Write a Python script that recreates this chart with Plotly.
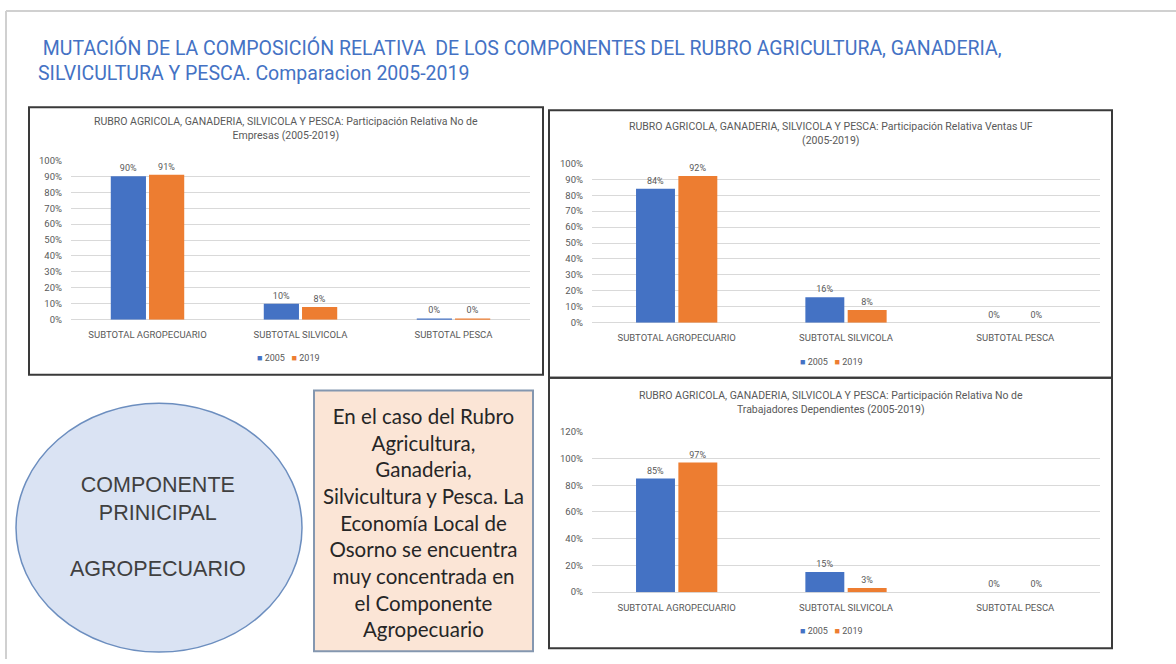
import plotly.graph_objects as go

W, H = 1176, 664

categories = ["SUBTOTAL AGROPECUARIO", "SUBTOTAL SILVICOLA", "SUBTOTAL PESCA"]
series_names = ["2005", "2019"]

empresas_2005 = [0.90, 0.10, 0.004]
empresas_2019 = [0.91, 0.08, 0.004]
ventas_2005 = [0.84, 0.16, 0.0]
ventas_2019 = [0.92, 0.08, 0.0]
trabajadores_2005 = [0.85, 0.15, 0.0]
trabajadores_2019 = [0.97, 0.03, 0.0]

main_title = (" MUTACIÓN DE LA COMPOSICIÓN RELATIVA  DE LOS COMPONENTES DEL RUBRO AGRICULTURA, GANADERIA,<br>"
              "SILVICULTURA Y PESCA. Comparacion 2005-2019")
chart_titles = [
    "RUBRO AGRICOLA, GANADERIA, SILVICOLA Y PESCA: Participación Relativa No de<br>Empresas (2005-2019)",
    "RUBRO AGRICOLA, GANADERIA, SILVICOLA Y PESCA: Participación Relativa Ventas UF<br>(2005-2019)",
    "RUBRO AGRICOLA, GANADERIA, SILVICOLA Y PESCA: Participación Relativa No de<br>Trabajadores Dependientes (2005-2019)",
]
ellipse_text = "COMPONENTE<br>PRINICIPAL<br><br>AGROPECUARIO"
box_text = ("En el caso del Rubro<br>Agricultura,<br>Ganaderia,<br>Silvicultura y Pesca. La<br>"
            "Economía Local de<br>Osorno se encuentra<br>muy concentrada en<br>el Componente<br>Agropecuario")

BLUE = "#4472C4"
ORANGE = "#ED7D31"
GRAY_TXT = "#595959"
GRID = "#D9D9D9"
SMALL_FONT = "Roboto, sans-serif"

def px(x):
    return x / W

def py(y):
    return 1 - y / H

fig = go.Figure()

# plot-area pixel boxes: (x0, x1, ytop, ybottom, ymax, dtick)
areas = [
    (71, 530, 157, 319, 1.0, 0.1),
    (592, 1100, 160, 322, 1.0, 0.1),
    (592, 1100, 433, 596, 1.2, 0.2),
]
data = [
    (empresas_2005, empresas_2019),
    (ventas_2005, ventas_2019),
    (trabajadores_2005, trabajadores_2019),
]
legend_pos = [(288, 358), (831, 362), (831, 636)]
title_pos = [(286, 125), (831, 130), (831, 403)]

for i, ((a, b), (x0, x1, yt, yb, ymax, dt)) in enumerate(zip(data, areas)):
    xa = "x" if i == 0 else f"x{i+1}"
    ya = "y" if i == 0 else f"y{i+1}"
    for vals, name, col in ((a, series_names[0], BLUE), (b, series_names[1], ORANGE)):
        fig.add_trace(go.Bar(
            x=categories, y=vals, name=name, marker=dict(color=col, line=dict(width=0)),
            texttemplate="%{y:.0%}", textposition="outside", cliponaxis=False,
            textfont=dict(size=9, color=GRAY_TXT, family=SMALL_FONT),
            xaxis=xa, yaxis=ya, showlegend=False,
        ))
    xkey = "xaxis" if i == 0 else f"xaxis{i+1}"
    ykey = "yaxis" if i == 0 else f"yaxis{i+1}"
    fig.update_layout(**{
        xkey: dict(domain=[px(x0), px(x1)], anchor=ya, showgrid=False, showline=False,
                   ticks="", ticklabelstandoff=8,
                   tickfont=dict(size=9.5, color=GRAY_TXT, family=SMALL_FONT)),
        ykey: dict(domain=[py(yb), py(yt)], anchor=xa, range=[0, ymax], dtick=dt,
                   tickformat=".0%", showgrid=True, gridcolor=GRID, gridwidth=1,
                   zeroline=True, zerolinecolor=GRID, zerolinewidth=1, showline=False,
                   ticks="", ticklabelstandoff=8,
                   tickfont=dict(size=9.5, color=GRAY_TXT, family=SMALL_FONT)),
    })
    lx, ly = legend_pos[i]
    legend_text = (f"<span style='color:{BLUE}'>■</span> {series_names[0]}   "
                   f"<span style='color:{ORANGE}'>■</span> {series_names[1]}")
    fig.add_annotation(x=px(lx), y=py(ly), xref="paper", yref="paper", text=legend_text,
                       showarrow=False, xanchor="center", yanchor="middle",
                       font=dict(size=9, color=GRAY_TXT, family=SMALL_FONT))
    tx, ty = title_pos[i]
    fig.add_annotation(x=px(tx), y=py(ty), xref="paper", yref="paper", text=chart_titles[i],
                       showarrow=False, xanchor="center", yanchor="middle",
                       font=dict(size=10.5, color=GRAY_TXT, family=SMALL_FONT))

# main title
fig.add_annotation(x=px(36), y=py(55), xref="paper", yref="paper", text=main_title,
                   showarrow=False, xanchor="left", yanchor="middle", align="left",
                   font=dict(size=19.5, color=BLUE, family="Roboto, sans-serif"))

shapes = []
# slide border
shapes.append(dict(type="line", xref="paper", yref="paper", x0=px(6), x1=1, y0=py(5), y1=py(5),
                   line=dict(color="#D0D0D0", width=2)))
shapes.append(dict(type="line", xref="paper", yref="paper", x0=px(6), x1=px(6), y0=py(5), y1=0,
                   line=dict(color="#D0D0D0", width=2)))
# chart boxes
for (bx0, by0, bx1, by1) in [(29, 103, 543, 375), (549, 106, 1112, 378), (549, 378, 1112, 653)]:
    shapes.append(dict(type="rect", xref="paper", yref="paper", x0=px(bx0), x1=px(bx1),
                       y0=py(by1), y1=py(by0), line=dict(color="#3A3A3A", width=2),
                       fillcolor="rgba(0,0,0,0)", layer="below"))
# ellipse
shapes.append(dict(type="circle", xref="paper", yref="paper", x0=px(16), x1=px(302),
                   y0=py(657), y1=py(404), fillcolor="#DAE3F3",
                   line=dict(color="#6C8EBF", width=1.5)))
# text box
shapes.append(dict(type="rect", xref="paper", yref="paper", x0=px(314), x1=px(533),
                   y0=py(656), y1=py(391), fillcolor="#FBE5D6",
                   line=dict(color="#8497B0", width=2)))
fig.update_layout(shapes=shapes)

fig.add_annotation(x=px(158), y=py(530), xref="paper", yref="paper", text=ellipse_text,
                   showarrow=False, xanchor="center", yanchor="middle", align="center",
                   font=dict(size=21.5, color="#404040", family="Liberation Sans, Arial, sans-serif"))
fig.add_annotation(x=px(423), y=py(525), xref="paper", yref="paper", text=box_text,
                   showarrow=False, xanchor="center", yanchor="middle", align="center",
                   font=dict(size=20.5, color="#262626", family="Lato, sans-serif"))

fig.update_layout(
    width=W, height=H, margin=dict(l=0, r=0, t=0, b=0),
    paper_bgcolor="white", plot_bgcolor="white",
    barmode="group", bargap=0.5, bargroupgap=0.08,
    font=dict(family=SMALL_FONT),
)

fig.write_html("out.html", post_script="document.body.style.margin='0';",
               config={"displayModeBar": False})
